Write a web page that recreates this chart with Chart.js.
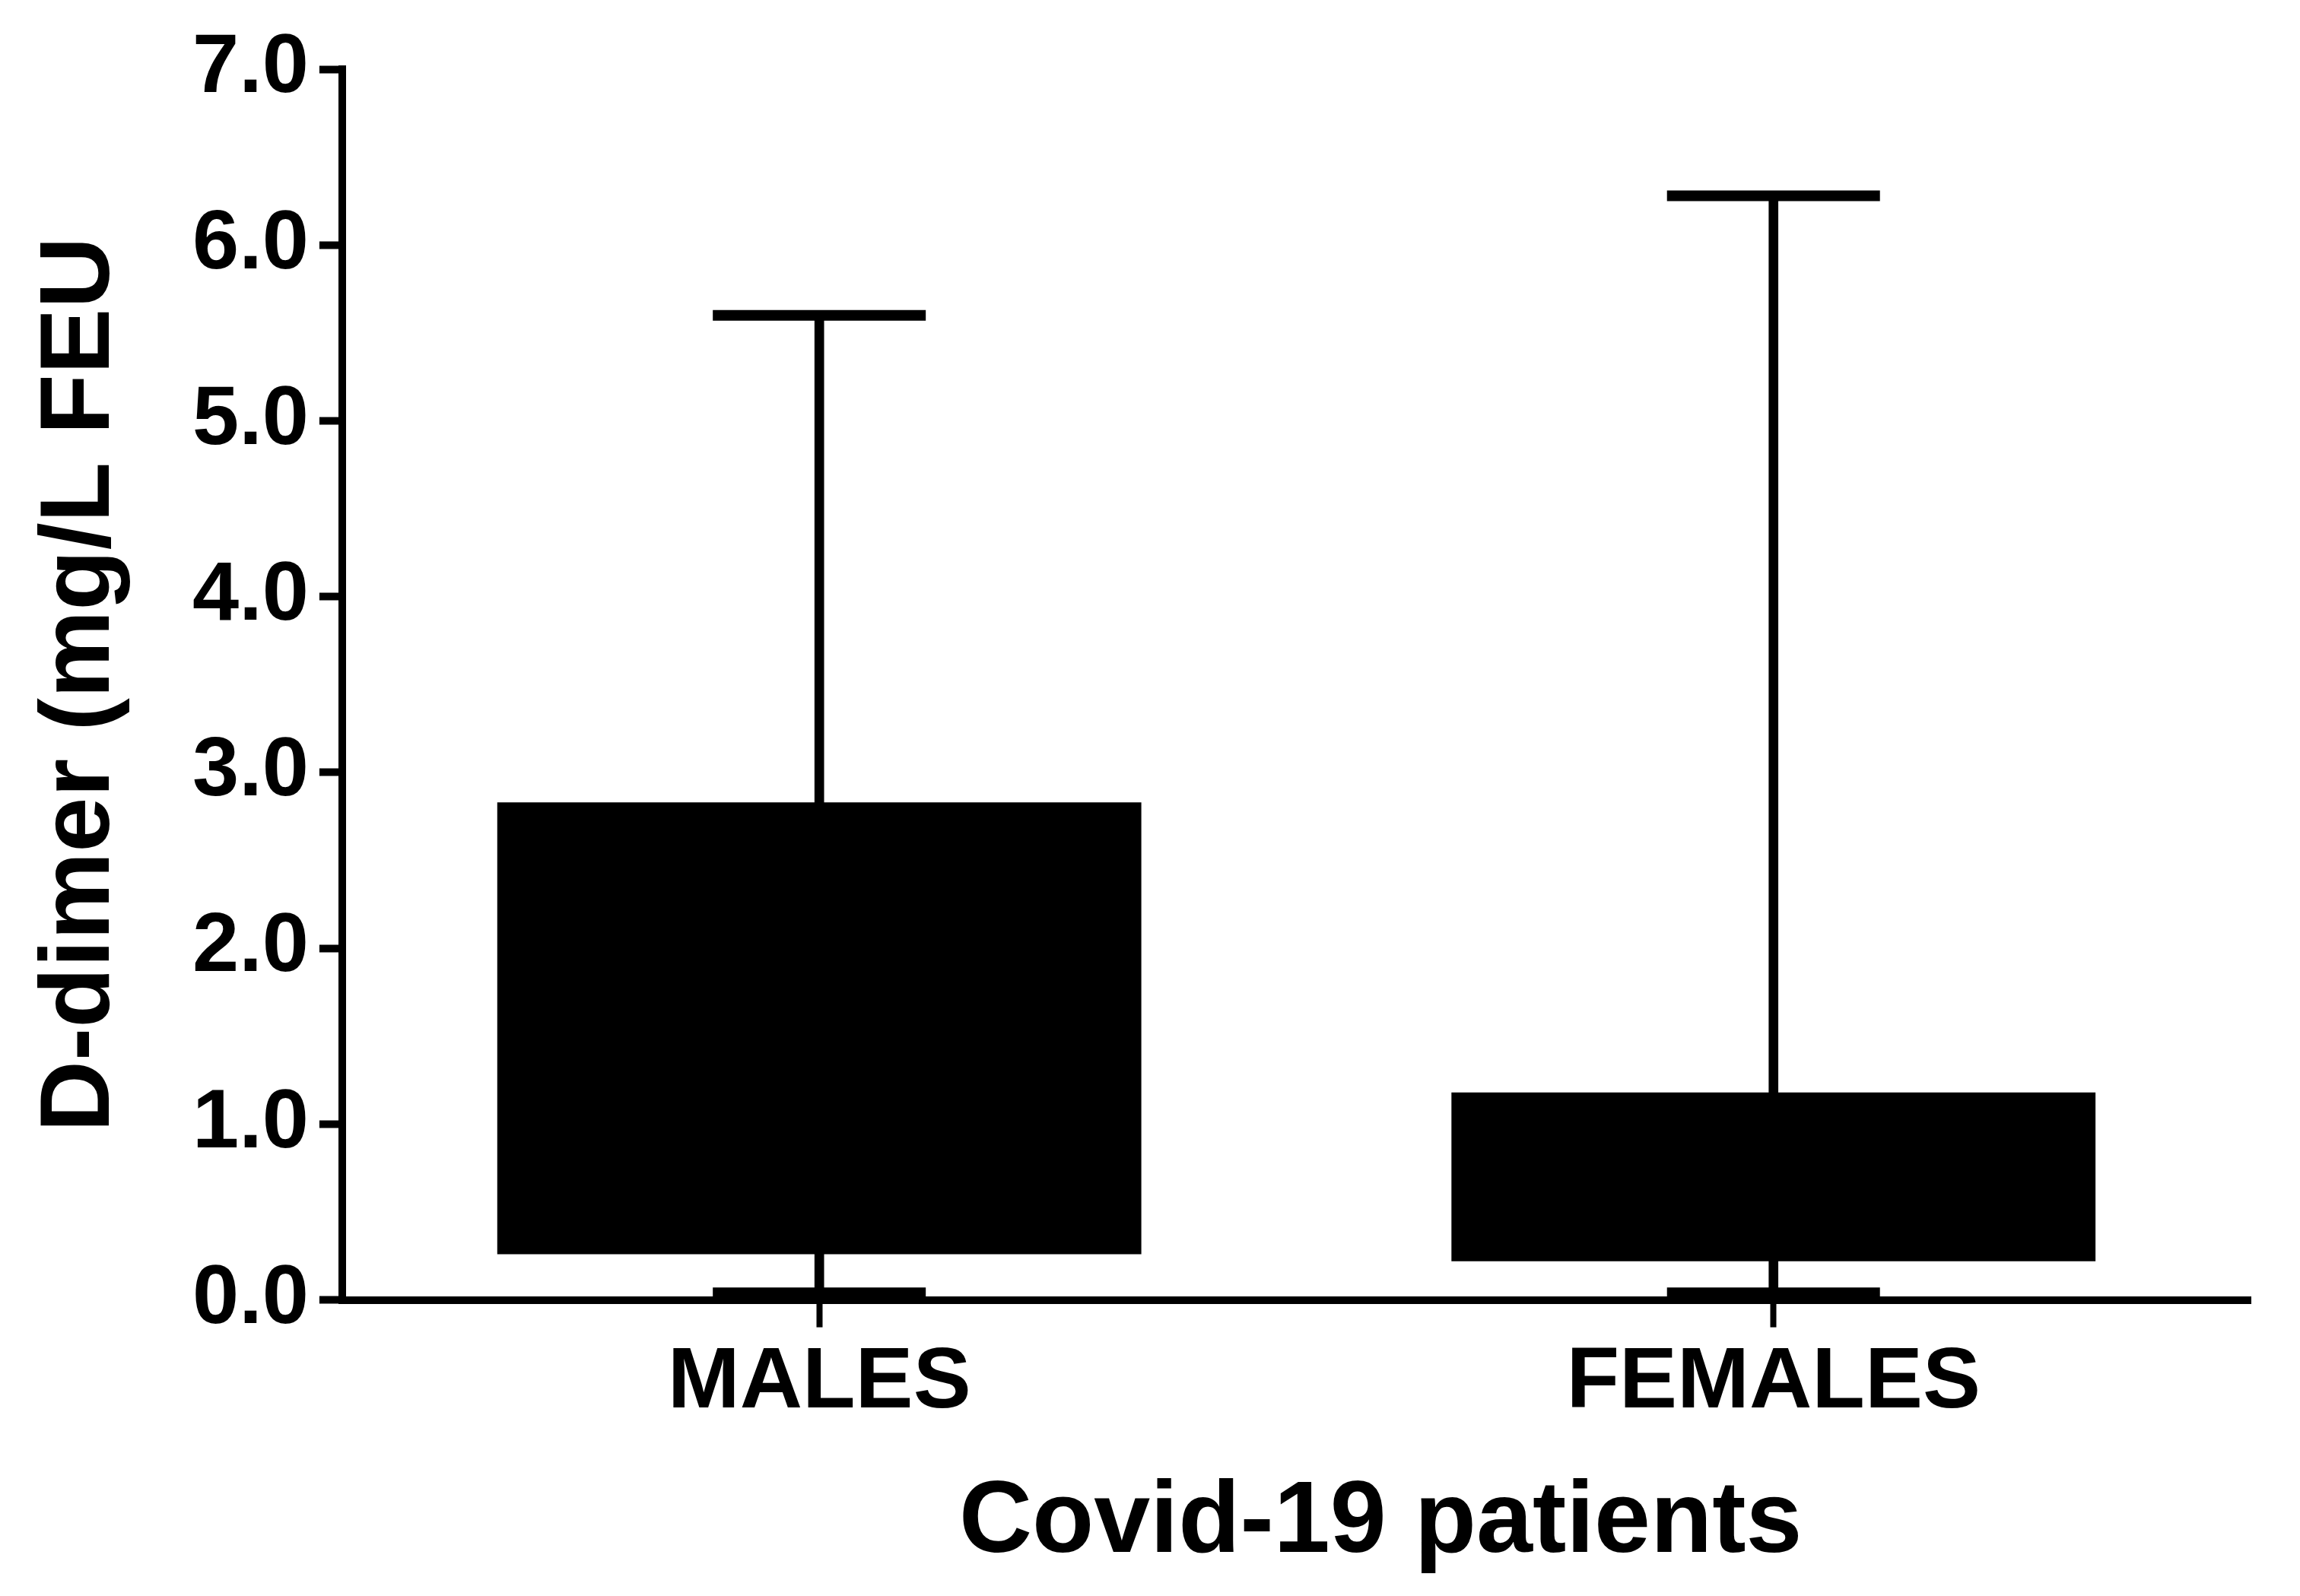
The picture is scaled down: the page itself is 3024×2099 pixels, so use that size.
<!DOCTYPE html>
<html>
<head>
<meta charset="utf-8">
<script src="https://cdn.jsdelivr.net/npm/chart.js@4.4.1/dist/chart.umd.min.js"></script>
<style>
  html, body { margin: 0; padding: 0; background: #fff; overflow: hidden; }
  #wrap { width: 3024px; height: 2099px; position: relative; }
  #wrap canvas { display: block; }
</style>
</head>
<body>
<div id="wrap"><canvas id="ddimer"></canvas></div>
<script>
// D-dimer by sex, box = Q1..Q3, whiskers = min..max
const categories = ['MALES', 'FEMALES'];
const minValues = [0.04, 0.04];
const q1Values = [0.26, 0.22];
const q3Values = [2.83, 1.18];
const maxValues = [5.60, 6.28];

const fontFamily = '"Liberation Sans", Arial, sans-serif';

function drawBoxChart(id) {
    const boxes = categories.map((c, i) => [q1Values[i], q3Values[i]]);
    const whiskers = categories.map((c, i) => [minValues[i], maxValues[i]]);

    const data = {
        labels: categories,
        datasets: [
            {
                type: 'bar',
                data: whiskers,
                backgroundColor: '#000',
                barThickness: 12,
                grouped: false
            },
            {
                type: 'bar',
                data: boxes,
                backgroundColor: '#000',
                barPercentage: 0.675,
                categoryPercentage: 1,
                grouped: false
            },
            {
                type: 'line',
                data: maxValues,
                showLine: false,
                pointStyle: 'line',
                pointRadius: 140,
                pointBorderWidth: 14,
                pointBorderColor: '#000',
                clip: false
            },
            {
                type: 'line',
                data: minValues,
                showLine: false,
                pointStyle: 'line',
                pointRadius: 140,
                pointBorderWidth: 14,
                pointBorderColor: '#000',
                clip: false
            }
        ]
    };

    const options = {
        responsive: true,
        maintainAspectRatio: false,
        devicePixelRatio: 1,
        animation: false,
        events: [],
        layout: {
            autoPadding: false,
            padding: { top: 91, right: 65, bottom: 15, left: 29 }
        },
        plugins: {
            legend: { display: false },
            tooltip: { enabled: false }
        },
        scales: {
            y: {
                min: 0,
                max: 7,
                ticks: {
                    stepSize: 1,
                    color: '#000',
                    padding: 14,
                    font: { family: fontFamily, size: 110, weight: 'bold' },
                    callback: v => v.toFixed(1)
                },
                border: { color: '#000', width: 10 },
                grid: {
                    drawOnChartArea: false,
                    tickLength: 30,
                    tickColor: '#000',
                    tickWidth: 10
                },
                title: {
                    display: true,
                    text: 'D-dimer (mg/L FEU',
                    color: '#000',
                    padding: { top: 0, bottom: 54 },
                    font: { family: fontFamily, size: 130, weight: 'bold' }
                }
            },
            x: {
                offset: true,
                ticks: {
                    color: '#000',
                    padding: 6,
                    font: { family: fontFamily, size: 114, weight: 'bold' }
                },
                border: { color: '#000', width: 10 },
                grid: {
                    offset: false,
                    drawOnChartArea: false,
                    tickLength: 36,
                    tickColor: '#000',
                    tickWidth: 8
                },
                title: {
                    display: true,
                    text: '      Covid-19 patients',
                    color: '#000',
                    padding: { top: 30, bottom: 0 },
                    font: { family: fontFamily, size: 133, weight: 'bold' }
                }
            }
        }
    };

    const ctx = document.getElementById(id).getContext('2d');
    new Chart(ctx, { data: data, options: options });
}

drawBoxChart('ddimer');
</script>
</body>
</html>
